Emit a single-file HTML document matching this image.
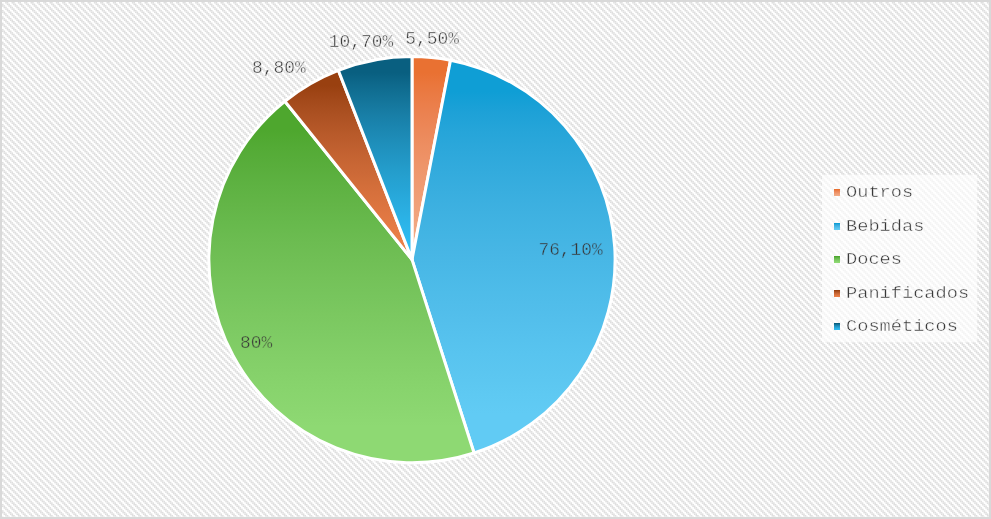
<!DOCTYPE html>
<html><head><meta charset="utf-8"><title>Chart</title>
<style>
html,body{margin:0;padding:0;background:#fff;}
#c{position:relative;width:991px;height:519px;overflow:hidden;box-sizing:border-box;
background:#fff;}
#b{position:absolute;left:0;top:0;width:991px;height:519px;box-sizing:border-box;border:2px solid #d9d9d9;}
.t{font-family:"Liberation Mono","Courier New",monospace;fill:#383838;stroke-width:0.45px;paint-order:fill stroke;}
</style></head><body>
<div id="c">
<svg width="991" height="519" viewBox="0 0 991 519" style="position:absolute;left:0;top:0">
<defs><linearGradient id="g0" x1="0" y1="0" x2="0" y2="1"><stop offset="0.0800" stop-color="#e97132"/><stop offset="0.1313" stop-color="#ea763b"/><stop offset="0.1825" stop-color="#ea7a43"/><stop offset="0.2338" stop-color="#eb7e4a"/><stop offset="0.2850" stop-color="#eb8251"/><stop offset="0.3363" stop-color="#ec8656"/><stop offset="0.3875" stop-color="#ec8a5c"/><stop offset="0.4388" stop-color="#ed8e61"/><stop offset="0.4900" stop-color="#ee9165"/><stop offset="0.5413" stop-color="#ee956a"/><stop offset="0.5925" stop-color="#ef986e"/><stop offset="0.6438" stop-color="#ef9b72"/><stop offset="0.6950" stop-color="#f09e76"/><stop offset="0.7462" stop-color="#f0a17a"/><stop offset="0.7975" stop-color="#f1a47d"/><stop offset="0.8488" stop-color="#f1a781"/><stop offset="0.9000" stop-color="#f2aa84"/></linearGradient><linearGradient id="g1" x1="0" y1="0" x2="0" y2="1"><stop offset="0.0800" stop-color="#0f9ed5"/><stop offset="0.1313" stop-color="#1da1d7"/><stop offset="0.1825" stop-color="#26a5d9"/><stop offset="0.2338" stop-color="#2da8db"/><stop offset="0.2850" stop-color="#33abdd"/><stop offset="0.3363" stop-color="#39aedf"/><stop offset="0.3875" stop-color="#3eb1e1"/><stop offset="0.4388" stop-color="#42b4e3"/><stop offset="0.4900" stop-color="#47b6e5"/><stop offset="0.5413" stop-color="#4ab9e7"/><stop offset="0.5925" stop-color="#4ebce9"/><stop offset="0.6438" stop-color="#52beeb"/><stop offset="0.6950" stop-color="#55c1ed"/><stop offset="0.7462" stop-color="#58c4ef"/><stop offset="0.7975" stop-color="#5bc6f0"/><stop offset="0.8488" stop-color="#5ec9f2"/><stop offset="0.9000" stop-color="#61cbf4"/></linearGradient><linearGradient id="g2" x1="0" y1="0" x2="0" y2="1"><stop offset="0.0800" stop-color="#4ea72e"/><stop offset="0.1313" stop-color="#54ab36"/><stop offset="0.1825" stop-color="#59ae3c"/><stop offset="0.2338" stop-color="#5eb242"/><stop offset="0.2850" stop-color="#63b547"/><stop offset="0.3363" stop-color="#67b94c"/><stop offset="0.3875" stop-color="#6cbc51"/><stop offset="0.4388" stop-color="#70bf55"/><stop offset="0.4900" stop-color="#74c259"/><stop offset="0.5413" stop-color="#77c55d"/><stop offset="0.5925" stop-color="#7bc860"/><stop offset="0.6438" stop-color="#7ecb64"/><stop offset="0.6950" stop-color="#82ce67"/><stop offset="0.7462" stop-color="#85d16a"/><stop offset="0.7975" stop-color="#88d46d"/><stop offset="0.8488" stop-color="#8bd670"/><stop offset="0.9000" stop-color="#8ed973"/></linearGradient><linearGradient id="g3" x1="0" y1="0" x2="0" y2="1"><stop offset="0.0800" stop-color="#994010"/><stop offset="0.1313" stop-color="#a04617"/><stop offset="0.1825" stop-color="#a64c1d"/><stop offset="0.2338" stop-color="#ac5122"/><stop offset="0.2850" stop-color="#b25526"/><stop offset="0.3363" stop-color="#b85a2a"/><stop offset="0.3875" stop-color="#bd5e2e"/><stop offset="0.4388" stop-color="#c36231"/><stop offset="0.4900" stop-color="#c86634"/><stop offset="0.5413" stop-color="#cc6937"/><stop offset="0.5925" stop-color="#d16d39"/><stop offset="0.6438" stop-color="#d6703c"/><stop offset="0.6950" stop-color="#da733e"/><stop offset="0.7462" stop-color="#df7641"/><stop offset="0.7975" stop-color="#e37943"/><stop offset="0.8488" stop-color="#e77c45"/><stop offset="0.9000" stop-color="#eb7f47"/></linearGradient><linearGradient id="g4" x1="0" y1="0" x2="0" y2="1"><stop offset="0.0800" stop-color="#095f80"/><stop offset="0.1313" stop-color="#0e688b"/><stop offset="0.1825" stop-color="#117094"/><stop offset="0.2338" stop-color="#15779d"/><stop offset="0.2850" stop-color="#187ea6"/><stop offset="0.3363" stop-color="#1a84ae"/><stop offset="0.3875" stop-color="#1d8ab5"/><stop offset="0.4388" stop-color="#1f90bc"/><stop offset="0.4900" stop-color="#2195c3"/><stop offset="0.5413" stop-color="#239bc9"/><stop offset="0.5925" stop-color="#25a0cf"/><stop offset="0.6438" stop-color="#26a4d5"/><stop offset="0.6950" stop-color="#28a9db"/><stop offset="0.7462" stop-color="#2aade0"/><stop offset="0.7975" stop-color="#2bb2e6"/><stop offset="0.8488" stop-color="#2db6eb"/><stop offset="0.9000" stop-color="#2ebaf0"/></linearGradient><pattern id="h" patternUnits="userSpaceOnUse" x="2" y="2" width="19" height="19"><rect x="3.167" y="0.0" width="1.5830000000000002" height="1.583" fill="#dfdfdf"/><rect x="4.75" y="0.0" width="1.5830000000000002" height="1.583" fill="#dfdfdf"/><rect x="9.5" y="0.0" width="1.5830000000000002" height="1.583" fill="#dfdfdf"/><rect x="11.083" y="0.0" width="1.5839999999999996" height="1.583" fill="#dfdfdf"/><rect x="15.833" y="0.0" width="1.5840000000000014" height="1.583" fill="#dfdfdf"/><rect x="17.417" y="0.0" width="1.5829999999999984" height="1.583" fill="#dfdfdf"/><rect x="0.0" y="1.583" width="1.583" height="1.5839999999999999" fill="#dfdfdf"/><rect x="4.75" y="1.583" width="1.5830000000000002" height="1.5839999999999999" fill="#dfdfdf"/><rect x="6.333" y="1.583" width="1.5839999999999996" height="1.5839999999999999" fill="#dfdfdf"/><rect x="11.083" y="1.583" width="1.5839999999999996" height="1.5839999999999999" fill="#dfdfdf"/><rect x="12.667" y="1.583" width="1.5830000000000002" height="1.5839999999999999" fill="#dfdfdf"/><rect x="17.417" y="1.583" width="1.5829999999999984" height="1.5839999999999999" fill="#dfdfdf"/><rect x="0.0" y="3.167" width="1.583" height="1.5830000000000002" fill="#dfdfdf"/><rect x="1.583" y="3.167" width="1.5839999999999999" height="1.5830000000000002" fill="#dfdfdf"/><rect x="6.333" y="3.167" width="1.5839999999999996" height="1.5830000000000002" fill="#dfdfdf"/><rect x="7.917" y="3.167" width="1.5830000000000002" height="1.5830000000000002" fill="#dfdfdf"/><rect x="12.667" y="3.167" width="1.5830000000000002" height="1.5830000000000002" fill="#dfdfdf"/><rect x="14.25" y="3.167" width="1.5830000000000002" height="1.5830000000000002" fill="#dfdfdf"/><rect x="1.583" y="4.75" width="1.5839999999999999" height="1.5830000000000002" fill="#dfdfdf"/><rect x="3.167" y="4.75" width="1.5830000000000002" height="1.5830000000000002" fill="#dfdfdf"/><rect x="7.917" y="4.75" width="1.5830000000000002" height="1.5830000000000002" fill="#dfdfdf"/><rect x="9.5" y="4.75" width="1.5830000000000002" height="1.5830000000000002" fill="#dfdfdf"/><rect x="14.25" y="4.75" width="1.5830000000000002" height="1.5830000000000002" fill="#dfdfdf"/><rect x="15.833" y="4.75" width="1.5840000000000014" height="1.5830000000000002" fill="#dfdfdf"/><rect x="3.167" y="6.333" width="1.5830000000000002" height="1.5839999999999996" fill="#dfdfdf"/><rect x="4.75" y="6.333" width="1.5830000000000002" height="1.5839999999999996" fill="#dfdfdf"/><rect x="9.5" y="6.333" width="1.5830000000000002" height="1.5839999999999996" fill="#dfdfdf"/><rect x="11.083" y="6.333" width="1.5839999999999996" height="1.5839999999999996" fill="#dfdfdf"/><rect x="15.833" y="6.333" width="1.5840000000000014" height="1.5839999999999996" fill="#dfdfdf"/><rect x="17.417" y="6.333" width="1.5829999999999984" height="1.5839999999999996" fill="#dfdfdf"/><rect x="0.0" y="7.917" width="1.583" height="1.5830000000000002" fill="#dfdfdf"/><rect x="4.75" y="7.917" width="1.5830000000000002" height="1.5830000000000002" fill="#dfdfdf"/><rect x="6.333" y="7.917" width="1.5839999999999996" height="1.5830000000000002" fill="#dfdfdf"/><rect x="11.083" y="7.917" width="1.5839999999999996" height="1.5830000000000002" fill="#dfdfdf"/><rect x="12.667" y="7.917" width="1.5830000000000002" height="1.5830000000000002" fill="#dfdfdf"/><rect x="17.417" y="7.917" width="1.5829999999999984" height="1.5830000000000002" fill="#dfdfdf"/><rect x="0.0" y="9.5" width="1.583" height="1.5830000000000002" fill="#dfdfdf"/><rect x="1.583" y="9.5" width="1.5839999999999999" height="1.5830000000000002" fill="#dfdfdf"/><rect x="6.333" y="9.5" width="1.5839999999999996" height="1.5830000000000002" fill="#dfdfdf"/><rect x="7.917" y="9.5" width="1.5830000000000002" height="1.5830000000000002" fill="#dfdfdf"/><rect x="12.667" y="9.5" width="1.5830000000000002" height="1.5830000000000002" fill="#dfdfdf"/><rect x="14.25" y="9.5" width="1.5830000000000002" height="1.5830000000000002" fill="#dfdfdf"/><rect x="1.583" y="11.083" width="1.5839999999999999" height="1.5839999999999996" fill="#dfdfdf"/><rect x="3.167" y="11.083" width="1.5830000000000002" height="1.5839999999999996" fill="#dfdfdf"/><rect x="7.917" y="11.083" width="1.5830000000000002" height="1.5839999999999996" fill="#dfdfdf"/><rect x="9.5" y="11.083" width="1.5830000000000002" height="1.5839999999999996" fill="#dfdfdf"/><rect x="14.25" y="11.083" width="1.5830000000000002" height="1.5839999999999996" fill="#dfdfdf"/><rect x="15.833" y="11.083" width="1.5840000000000014" height="1.5839999999999996" fill="#dfdfdf"/><rect x="3.167" y="12.667" width="1.5830000000000002" height="1.5830000000000002" fill="#dfdfdf"/><rect x="4.75" y="12.667" width="1.5830000000000002" height="1.5830000000000002" fill="#dfdfdf"/><rect x="9.5" y="12.667" width="1.5830000000000002" height="1.5830000000000002" fill="#dfdfdf"/><rect x="11.083" y="12.667" width="1.5839999999999996" height="1.5830000000000002" fill="#dfdfdf"/><rect x="15.833" y="12.667" width="1.5840000000000014" height="1.5830000000000002" fill="#dfdfdf"/><rect x="17.417" y="12.667" width="1.5829999999999984" height="1.5830000000000002" fill="#dfdfdf"/><rect x="0.0" y="14.25" width="1.583" height="1.5830000000000002" fill="#dfdfdf"/><rect x="4.75" y="14.25" width="1.5830000000000002" height="1.5830000000000002" fill="#dfdfdf"/><rect x="6.333" y="14.25" width="1.5839999999999996" height="1.5830000000000002" fill="#dfdfdf"/><rect x="11.083" y="14.25" width="1.5839999999999996" height="1.5830000000000002" fill="#dfdfdf"/><rect x="12.667" y="14.25" width="1.5830000000000002" height="1.5830000000000002" fill="#dfdfdf"/><rect x="17.417" y="14.25" width="1.5829999999999984" height="1.5830000000000002" fill="#dfdfdf"/><rect x="0.0" y="15.833" width="1.583" height="1.5840000000000014" fill="#dfdfdf"/><rect x="1.583" y="15.833" width="1.5839999999999999" height="1.5840000000000014" fill="#dfdfdf"/><rect x="6.333" y="15.833" width="1.5839999999999996" height="1.5840000000000014" fill="#dfdfdf"/><rect x="7.917" y="15.833" width="1.5830000000000002" height="1.5840000000000014" fill="#dfdfdf"/><rect x="12.667" y="15.833" width="1.5830000000000002" height="1.5840000000000014" fill="#dfdfdf"/><rect x="14.25" y="15.833" width="1.5830000000000002" height="1.5840000000000014" fill="#dfdfdf"/><rect x="1.583" y="17.417" width="1.5839999999999999" height="1.5829999999999984" fill="#dfdfdf"/><rect x="3.167" y="17.417" width="1.5830000000000002" height="1.5829999999999984" fill="#dfdfdf"/><rect x="7.917" y="17.417" width="1.5830000000000002" height="1.5829999999999984" fill="#dfdfdf"/><rect x="9.5" y="17.417" width="1.5830000000000002" height="1.5829999999999984" fill="#dfdfdf"/><rect x="14.25" y="17.417" width="1.5830000000000002" height="1.5829999999999984" fill="#dfdfdf"/><rect x="15.833" y="17.417" width="1.5840000000000014" height="1.5829999999999984" fill="#dfdfdf"/></pattern></defs>
<rect x="0" y="0" width="991" height="519" fill="#fff"/><rect x="0" y="0" width="991" height="519" fill="url(#h)"/>
<path d="M412.00,259.60L412.00,56.50A203.1,203.1 0 0 1 450.52,60.19Z" fill="url(#g0)" stroke="#fff" stroke-width="3" stroke-linejoin="round"/>
<path d="M412.00,259.60L450.52,60.19A203.1,203.1 0 0 1 474.06,452.99Z" fill="url(#g1)" stroke="#fff" stroke-width="3" stroke-linejoin="round"/>
<path d="M412.00,259.60L474.06,452.99A203.1,203.1 0 0 1 284.84,101.23Z" fill="url(#g2)" stroke="#fff" stroke-width="3" stroke-linejoin="round"/>
<path d="M412.00,259.60L284.84,101.23A203.1,203.1 0 0 1 338.32,70.33Z" fill="url(#g3)" stroke="#fff" stroke-width="3" stroke-linejoin="round"/>
<path d="M412.00,259.60L338.32,70.33A203.1,203.1 0 0 1 412.00,56.50Z" fill="url(#g4)" stroke="#fff" stroke-width="3" stroke-linejoin="round"/>
<rect x="822" y="175" width="155" height="167" fill="#fff" fill-opacity="0.65"/>
<text transform="translate(405.3,44) scale(1,1.06)" font-size="17.9" class="t" stroke="#f6f6f6">5,50%</text>
<text transform="translate(328.8,47.2) scale(1,1.06)" font-size="17.9" class="t" stroke="#f6f6f6">10,70%</text>
<text transform="translate(252,72.5) scale(1,1.06)" font-size="17.9" class="t" stroke="#f6f6f6">8,80%</text>
<text transform="translate(538.4,255) scale(1,1.06)" font-size="17.9" class="t" stroke="#46b2e3">76,10%</text>
<text transform="translate(240,348) scale(1,1.06)" font-size="17.9" class="t" stroke="#80cc64">80%</text>
<rect x="834" y="189" width="6" height="7" fill="url(#g0)"/>
<text transform="translate(846,197) scale(1,0.87)" font-size="18.67" class="t" stroke="#fafafa">Outros</text>
<rect x="834" y="223" width="6" height="7" fill="url(#g1)"/>
<text transform="translate(846,231) scale(1,0.87)" font-size="18.67" class="t" stroke="#fafafa">Bebidas</text>
<rect x="834" y="256" width="6" height="7" fill="url(#g2)"/>
<text transform="translate(846,264) scale(1,0.87)" font-size="18.67" class="t" stroke="#fafafa">Doces</text>
<rect x="834" y="290" width="6" height="7" fill="url(#g3)"/>
<text transform="translate(846,298) scale(1,0.87)" font-size="18.67" class="t" stroke="#fafafa">Panificados</text>
<rect x="834" y="323" width="6" height="7" fill="url(#g4)"/>
<text transform="translate(846,331) scale(1,0.87)" font-size="18.67" class="t" stroke="#fafafa">Cosméticos</text>
</svg>
<div id="b"></div>
</div>
</body></html>
